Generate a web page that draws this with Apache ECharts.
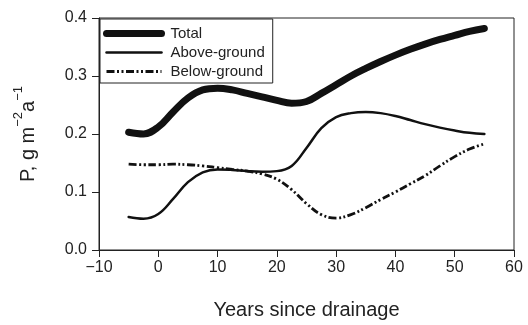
<!DOCTYPE html>
<html><head><meta charset="utf-8">
<script src="https://cdn.jsdelivr.net/npm/echarts@6/dist/echarts.min.js"></script>
<style>html,body{margin:0;padding:0;background:#fff}#c{width:528px;height:325px}</style>
</head><body><div id="c"></div>
<script>
const years = [-5,-2.5,0,2.5,5,7.5,10,12.5,15,17.5,20,22.5,25,27.5,30,32.5,35,37.5,40,42.5,45,47.5,50,52.5,55];
const total = [0.203,0.200,0.212,0.238,0.262,0.276,0.279,0.276,0.270,0.264,0.258,0.253,0.256,0.270,0.285,0.300,0.313,0.325,0.336,0.346,0.355,0.363,0.370,0.377,0.382];
const above = [0.057,0.054,0.062,0.088,0.117,0.134,0.139,0.138,0.136,0.135,0.136,0.145,0.176,0.210,0.229,0.236,0.238,0.236,0.231,0.224,0.217,0.211,0.206,0.202,0.200];
const below = [0.148,0.147,0.147,0.148,0.147,0.145,0.142,0.139,0.136,0.131,0.122,0.104,0.080,0.061,0.055,0.061,0.073,0.087,0.100,0.114,0.128,0.145,0.161,0.174,0.183];
const seriesNames = ['Total','Above-ground','Below-ground'];
const xTicks = [-10,0,10,20,30,40,50,60];
const yTicks = [0.0,0.1,0.2,0.3,0.4];

const pair = arr => years.map((x,i)=>[x,arr[i]]);
const chart = echarts.init(document.getElementById('c'), null, {renderer:'canvas'});
const font = 'Liberation Sans, Arial, sans-serif';
const styles = [
  {color:'#111',width:7,cap:'round',join:'round'},
  {color:'#111',width:2.5,cap:'round'},
  {color:'#111',width:2.8,type:[8,2.5,2,2.5,2,2.5]}
];
chart.setOption({
  animation:false,
  textStyle:{fontFamily:font},
  grid:{left:99,right:14,top:18,bottom:75,show:true,borderColor:'#222',borderWidth:1,backgroundColor:'transparent'},
  legend:{
    orient:'vertical', left:100, top:19, padding:[7,8,4,3], itemGap:4,
    itemWidth:55, itemHeight:14,
    backgroundColor:'#fff', borderColor:'#222', borderWidth:1,
    itemStyle:{opacity:0},
    textStyle:{fontFamily:font,fontSize:15,color:'#222',padding:[0,0,0,4]},
    data:seriesNames.map((n,i)=>({name:n,lineStyle:Object.assign({},styles[i])}))
  },
  xAxis:{type:'value',min:-10,max:60,interval:10,
    axisLine:{show:true,onZero:false,lineStyle:{color:'#222',width:1}},
    axisTick:{show:true,inside:false,length:7,lineStyle:{color:'#222'}},
    splitLine:{show:false},
    axisLabel:{fontSize:16,color:'#222',margin:10,fontFamily:font,
      formatter:v=> xTicks.includes(v) ? (v<0?'\u2212'+Math.abs(v):String(v)) : ''},
    name:'Years since drainage',nameLocation:'middle',nameGap:50,
    nameTextStyle:{fontSize:20,color:'#222',fontFamily:font}
  },
  yAxis:{type:'value',min:0,max:0.4,interval:0.1,
    axisLine:{show:true,onZero:false,lineStyle:{color:'#222',width:1}},
    axisTick:{show:true,inside:false,length:7,lineStyle:{color:'#222'}},
    splitLine:{show:false},
    axisLabel:{fontSize:16,color:'#222',margin:12,fontFamily:font,
      formatter:v=>{const t=yTicks.find(k=>Math.abs(k-v)<1e-9);return t===undefined?'':t.toFixed(1);}},
    name:'{a|P, g m}{s|\u22122}{a|a}{s|\u22121}',nameLocation:'middle',nameGap:61,nameRotate:90,
    nameTextStyle:{fontFamily:font,color:'#222',rich:{
      a:{fontSize:20,color:'#222',fontFamily:font,lineHeight:26,verticalAlign:'bottom'},
      s:{fontSize:13,color:'#222',fontFamily:font,lineHeight:26,verticalAlign:'top'}}}
  },
  series:[
    {name:seriesNames[0],type:'line',smooth:0.4,symbol:'none',data:pair(total),lineStyle:styles[0],itemStyle:{color:'#111'}},
    {name:seriesNames[1],type:'line',smooth:0.4,symbol:'none',data:pair(above),lineStyle:styles[1],itemStyle:{color:'#111'}},
    {name:seriesNames[2],type:'line',smooth:0.4,symbol:'none',data:pair(below),lineStyle:styles[2],itemStyle:{color:'#111'}}
  ]
});
</script></body></html>
